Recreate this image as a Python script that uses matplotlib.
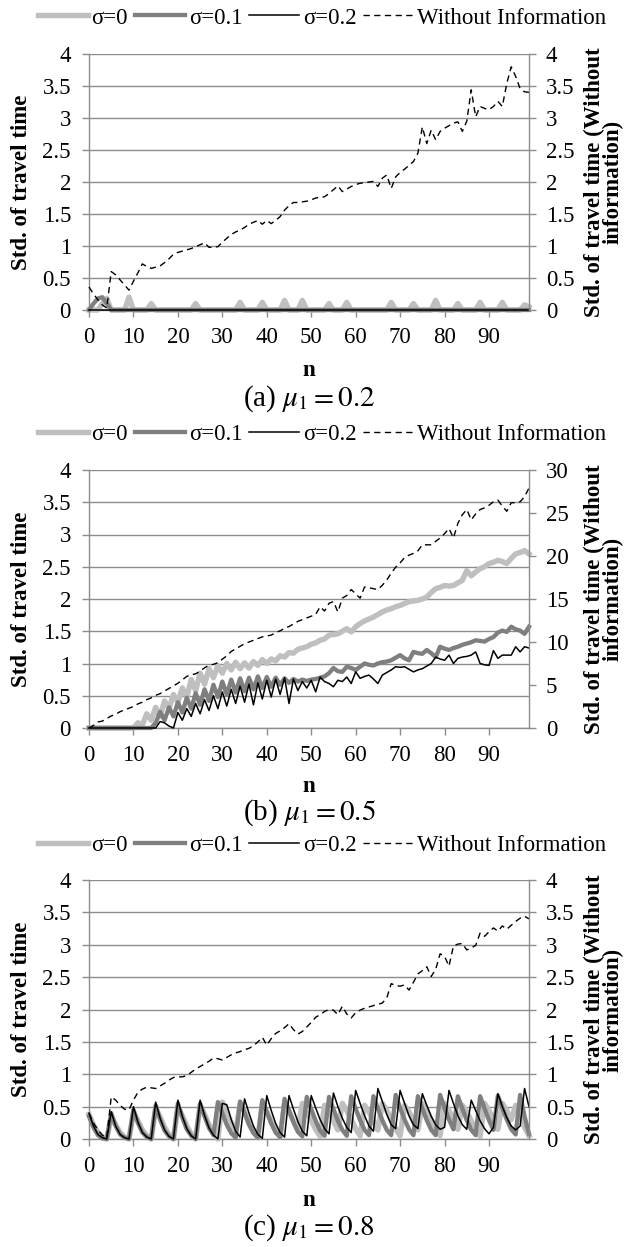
import matplotlib
matplotlib.use("Agg")
import matplotlib.pyplot as plt

plt.rcParams['font.family'] = ['Liberation Serif', 'DejaVu Serif']
plt.rcParams['mathtext.fontset'] = 'stix'

# ---------------- data ----------------
steps = list(range(100))
x_ticks = [0, 10, 20, 30, 40, 50, 60, 70, 80, 90]
x_tick_labels = ['0', '10', '20', '30', '40', '50', '60', '70', '80', '90']
left_ticks = [0, 0.5, 1, 1.5, 2, 2.5, 3, 3.5, 4]
left_tick_labels = ['0', '0.5', '1', '1.5', '2', '2.5', '3', '3.5', '4']
right_ticks_b = [0, 5, 10, 15, 20, 25, 30]
right_tick_labels_b = ['0', '5', '10', '15', '20', '25', '30']
series_labels = ['σ=0', 'σ=0.1', 'σ=0.2', 'Without Information']
captions = ['(a) $\\mu_1 = 0.2$', '(b) $\\mu_1 = 0.5$', '(c) $\\mu_1 = 0.8$']

# (a) mu1 = 0.2
a_sigma0 = [
    0, 0, 0, 0.10, 0.18, 0, 0, 0, 0, 0.20,
    0, 0, 0, 0, 0.10, 0, 0, 0, 0, 0,
    0, 0, 0, 0, 0.10, 0, 0, 0, 0, 0,
    0, 0, 0, 0, 0.12, 0, 0, 0, 0, 0.12,
    0, 0, 0, 0, 0.15, 0, 0, 0, 0.15, 0,
    0, 0, 0, 0, 0.10, 0, 0, 0, 0.12, 0,
    0, 0, 0, 0, 0, 0, 0, 0, 0.12, 0,
    0, 0, 0, 0.10, 0, 0, 0, 0, 0.15, 0,
    0, 0, 0, 0.10, 0, 0, 0, 0, 0.12, 0,
    0, 0, 0, 0.12, 0, 0, 0, 0, 0.08, 0.05,
]
a_sigma01 = [
    0, 0.10, 0.18, 0.20, 0.10, 0, 0, 0, 0, 0,
    0, 0, 0, 0, 0, 0, 0, 0, 0, 0,
    0, 0, 0, 0, 0, 0, 0, 0, 0, 0,
    0, 0, 0, 0, 0, 0, 0, 0, 0, 0,
    0, 0, 0, 0, 0, 0, 0, 0, 0, 0,
    0, 0, 0, 0, 0, 0, 0, 0, 0, 0,
    0, 0, 0, 0, 0, 0, 0, 0, 0, 0,
    0, 0, 0, 0, 0, 0, 0, 0, 0, 0,
    0, 0, 0, 0, 0, 0, 0, 0, 0, 0,
    0, 0, 0, 0, 0, 0, 0, 0, 0, 0,
]
a_sigma02 = [
    0, 0, 0, 0, 0, 0, 0, 0, 0, 0,
    0, 0, 0, 0, 0, 0, 0, 0, 0, 0,
    0, 0, 0, 0, 0, 0, 0, 0, 0, 0,
    0, 0, 0, 0, 0, 0, 0, 0, 0, 0,
    0, 0, 0, 0, 0, 0, 0, 0, 0, 0,
    0, 0, 0, 0, 0, 0, 0, 0, 0, 0,
    0, 0, 0, 0, 0, 0, 0, 0, 0, 0,
    0, 0, 0, 0, 0, 0, 0, 0, 0, 0,
    0, 0, 0, 0, 0, 0, 0, 0, 0, 0,
    0, 0, 0, 0, 0, 0, 0, 0, 0, 0,
]
a_no_info = [
    0.36, 0.25, 0.16, 0.08, 0.03, 0.60, 0.55, 0.47, 0.39, 0.31,
    0.45, 0.58, 0.72, 0.68, 0.65, 0.67, 0.69, 0.74, 0.80, 0.87,
    0.90, 0.92, 0.94, 0.96, 0.99, 1.02, 1.05, 0.98, 0.98, 0.99,
    1.06, 1.12, 1.18, 1.22, 1.25, 1.29, 1.34, 1.37, 1.40, 1.34,
    1.40, 1.35, 1.40, 1.46, 1.56, 1.63, 1.68, 1.68, 1.69, 1.70,
    1.72, 1.75, 1.76, 1.77, 1.82, 1.88, 1.94, 1.85, 1.89, 1.93,
    1.96, 1.98, 1.99, 2.00, 2.01, 1.93, 2.06, 2.11, 1.90, 2.08,
    2.15, 2.20, 2.26, 2.32, 2.45, 2.86, 2.60, 2.81, 2.66, 2.79,
    2.84, 2.88, 2.92, 2.94, 2.79, 2.95, 3.44, 3.02, 3.18, 3.15,
    3.13, 3.18, 3.26, 3.18, 3.54, 3.80, 3.65, 3.46, 3.41, 3.40,
]

# (b) mu1 = 0.5
b_sigma0 = [
    0, 0, 0, 0, 0, 0, 0, 0, 0, 0,
    0, 0.08, 0.05, 0.22, 0.12, 0.32, 0.18, 0.42, 0.30, 0.52,
    0.40, 0.62, 0.48, 0.75, 0.58, 0.85, 0.68, 0.92, 0.78, 0.97,
    0.85, 1.00, 0.90, 1.02, 0.92, 1.01, 0.93, 1.03, 0.97, 1.06,
    1.00, 1.07, 1.04, 1.12, 1.10, 1.17, 1.16, 1.22, 1.24, 1.26,
    1.30, 1.32, 1.36, 1.38, 1.44, 1.45, 1.46, 1.50, 1.54, 1.49,
    1.57, 1.62, 1.66, 1.69, 1.72, 1.76, 1.80, 1.83, 1.85, 1.88,
    1.90, 1.93, 1.96, 1.97, 1.98, 2.00, 2.03, 2.10, 2.16, 2.18,
    2.21, 2.20, 2.21, 2.25, 2.29, 2.44, 2.36, 2.42, 2.47, 2.50,
    2.55, 2.57, 2.60, 2.58, 2.55, 2.63, 2.70, 2.72, 2.75, 2.70,
]
b_sigma01 = [
    0, 0, 0, 0, 0, 0, 0, 0, 0, 0,
    0, 0, 0, 0, 0, 0.08, 0.25, 0.12, 0.32, 0.18,
    0.40, 0.24, 0.47, 0.30, 0.54, 0.36, 0.60, 0.42, 0.67, 0.48,
    0.72, 0.52, 0.75, 0.55, 0.77, 0.57, 0.78, 0.60, 0.80, 0.62,
    0.79, 0.64, 0.78, 0.67, 0.77, 0.70, 0.76, 0.72, 0.75, 0.73,
    0.75, 0.76, 0.78, 0.80, 0.85, 0.93, 0.88, 0.87, 0.95, 0.93,
    0.90, 0.95, 1.00, 0.98, 0.97, 1.00, 1.02, 1.03, 1.05, 1.09,
    1.13, 1.08, 1.05, 1.18, 1.16, 1.15, 1.21, 1.16, 1.10, 1.26,
    1.23, 1.21, 1.24, 1.26, 1.29, 1.31, 1.33, 1.36, 1.35, 1.34,
    1.38, 1.41, 1.48, 1.51, 1.49, 1.57, 1.53, 1.51, 1.46, 1.57,
]
b_sigma02 = [
    0, 0, 0, 0, 0, 0, 0, 0, 0, 0,
    0, 0, 0, 0, 0, 0, 0.10, 0.08, 0.03, 0,
    0.24, 0.12, 0.30, 0.18, 0.38, 0.22, 0.44, 0.27, 0.50, 0.30,
    0.56, 0.34, 0.60, 0.38, 0.65, 0.40, 0.68, 0.36, 0.70, 0.45,
    0.74, 0.48, 0.76, 0.52, 0.78, 0.38, 0.76, 0.58, 0.72, 0.62,
    0.74, 0.56, 0.79, 0.72, 0.69, 0.64, 0.74, 0.72, 0.79, 0.69,
    0.87, 0.77, 0.80, 0.82, 0.76, 0.69, 0.82, 0.86, 0.90, 0.95,
    0.94, 0.95, 0.91, 0.87, 0.90, 0.92, 0.96, 1.00, 1.10, 1.07,
    1.05, 1.13, 1.00, 1.08, 1.10, 1.11, 1.13, 1.18, 1.00, 0.98,
    0.97, 1.20, 1.08, 1.13, 1.13, 1.13, 1.26, 1.18, 1.26, 1.24,
]
b_no_info = [
    0.0, 0.3, 0.7, 0.8, 1.1, 1.4, 1.6, 1.9, 2.1, 2.3,
    2.5, 2.8, 3.0, 3.3, 3.5, 3.8, 4.0, 4.3, 4.6, 4.9,
    5.2, 5.6, 6.0, 6.2, 6.3, 6.6, 7.0, 7.3, 7.4, 7.6,
    8.0, 8.4, 8.9, 9.2, 9.5, 9.8, 10.0, 10.2, 10.4, 10.6,
    10.7, 10.8, 11.1, 11.3, 11.6, 11.8, 12.1, 12.4, 12.6, 12.8,
    13.0, 13.2, 14.1, 13.6, 14.5, 14.7, 13.5, 15.1, 15.4, 16.1,
    15.6, 15.1, 16.4, 16.3, 16.2, 16.1, 16.6, 17.2, 18.0, 18.7,
    19.2, 19.8, 20.1, 20.3, 20.6, 21.3, 21.3, 21.3, 21.7, 22.1,
    22.6, 23.2, 22.1, 23.8, 24.8, 25.4, 24.2, 24.9, 25.4, 25.6,
    25.9, 26.3, 26.5, 25.8, 25.2, 26.2, 26.2, 26.3, 26.9, 27.9,
]

# (c) mu1 = 0.8
c_sigma0 = [
    0.38, 0.22, 0.10, 0.03, 0.00, 0.35, 0.22, 0.10, 0.03, 0.00,
    0.42, 0.28, 0.14, 0.05, 0.00, 0.48, 0.34, 0.18, 0.07, 0.00,
    0.50, 0.36, 0.20, 0.08, 0.00, 0.52, 0.38, 0.22, 0.09, 0.00,
    0.57, 0.42, 0.25, 0.10, 0.55, 0.42, 0.26, 0.12, 0.02, 0.55,
    0.42, 0.27, 0.13, 0.03, 0.55, 0.43, 0.28, 0.14, 0.55, 0.43,
    0.29, 0.15, 0.04, 0.52, 0.42, 0.28, 0.14, 0.55, 0.44, 0.30,
    0.16, 0.05, 0.52, 0.42, 0.28, 0.14, 0.55, 0.44, 0.30, 0.16,
    0.05, 0.52, 0.42, 0.28, 0.14, 0.55, 0.44, 0.30, 0.16, 0.05,
    0.55, 0.44, 0.30, 0.15, 0.52, 0.42, 0.28, 0.14, 0.04, 0.55,
    0.44, 0.30, 0.15, 0.55, 0.44, 0.30, 0.52, 0.36, 0.18, 0.05,
]
c_sigma01 = [
    0.35, 0.18, 0.06, 0.01, 0.00, 0.40, 0.20, 0.07, 0.02, 0.00,
    0.45, 0.25, 0.10, 0.03, 0.00, 0.52, 0.30, 0.13, 0.04, 0.00,
    0.55, 0.33, 0.15, 0.05, 0.00, 0.55, 0.35, 0.17, 0.06, 0.57,
    0.40, 0.22, 0.09, 0.02, 0.58, 0.40, 0.22, 0.09, 0.02, 0.60,
    0.42, 0.24, 0.10, 0.03, 0.62, 0.44, 0.26, 0.11, 0.04, 0.65,
    0.46, 0.28, 0.13, 0.05, 0.65, 0.46, 0.28, 0.14, 0.05, 0.66,
    0.47, 0.29, 0.14, 0.06, 0.66, 0.47, 0.29, 0.14, 0.06, 0.68,
    0.48, 0.30, 0.15, 0.06, 0.66, 0.47, 0.29, 0.14, 0.06, 0.68,
    0.48, 0.30, 0.15, 0.66, 0.47, 0.29, 0.14, 0.06, 0.66, 0.47,
    0.29, 0.14, 0.67, 0.48, 0.30, 0.15, 0.07, 0.68, 0.35, 0.08,
]
c_sigma02 = [
    0.40, 0.20, 0.07, 0.02, 0.00, 0.42, 0.20, 0.07, 0.02, 0.00,
    0.50, 0.26, 0.10, 0.03, 0.00, 0.57, 0.32, 0.14, 0.04, 0.00,
    0.60, 0.35, 0.16, 0.05, 0.00, 0.60, 0.36, 0.17, 0.06, 0.00,
    0.55, 0.53, 0.30, 0.12, 0.03, 0.62, 0.40, 0.20, 0.07, 0.01,
    0.67, 0.44, 0.24, 0.10, 0.03, 0.67, 0.46, 0.27, 0.12, 0.05,
    0.67, 0.48, 0.30, 0.16, 0.08, 0.71, 0.50, 0.32, 0.18, 0.10,
    0.75, 0.55, 0.36, 0.20, 0.12, 0.78, 0.58, 0.38, 0.22, 0.16,
    0.75, 0.55, 0.36, 0.22, 0.16, 0.70, 0.52, 0.35, 0.22, 0.15,
    0.18, 0.75, 0.55, 0.36, 0.22, 0.15, 0.60, 0.44, 0.28, 0.16,
    0.08, 0.18, 0.70, 0.50, 0.33, 0.20, 0.14, 0.20, 0.78, 0.50,
]
c_no_info = [
    0.40, 0.25, 0.14, 0.06, 0.02, 0.65, 0.60, 0.52, 0.46, 0.45,
    0.60, 0.72, 0.77, 0.80, 0.79, 0.78, 0.82, 0.86, 0.91, 0.95,
    0.96, 0.96, 0.98, 1.03, 1.08, 1.12, 1.16, 1.20, 1.25, 1.24,
    1.22, 1.26, 1.30, 1.33, 1.35, 1.38, 1.40, 1.44, 1.50, 1.57,
    1.45, 1.55, 1.63, 1.67, 1.72, 1.78, 1.69, 1.62, 1.66, 1.73,
    1.80, 1.88, 1.92, 1.97, 2.00, 1.99, 1.92, 2.05, 1.93, 1.87,
    1.95, 1.99, 2.02, 2.04, 2.06, 2.08, 2.10, 2.18, 2.40, 2.37,
    2.36, 2.38, 2.30, 2.42, 2.55, 2.60, 2.66, 2.51, 2.62, 2.86,
    2.82, 2.67, 2.98, 3.01, 3.02, 2.92, 2.95, 2.99, 3.18, 3.13,
    3.20, 3.26, 3.21, 3.29, 3.24, 3.30, 3.36, 3.41, 3.44, 3.40,
]

# ---------------- styling ----------------
FIG_W, FIG_H = 624, 1247
LIGHT = '#bfbfbf'
DARK = '#7f7f7f'
AXIS_GRAY = '#8c8c8c'
TICK_FS = 16.5
LABEL_FS = 16.5

fig = plt.figure(figsize=(FIG_W / 100, FIG_H / 100), dpi=100)


def fy(py):
    return 1 - py / FIG_H


AX_LEFT_PX, AX_RIGHT_PX = 89, 529

panels = [
    dict(top=54, bottom=310, s=(a_sigma0, a_sigma01, a_sigma02, a_no_info),
         rlim=4, rticks=left_ticks, rlabels=left_tick_labels,
         legend=18, nlab=371, cap=399),
    dict(top=470, bottom=728, s=(b_sigma0, b_sigma01, b_sigma02, b_no_info),
         rlim=30, rticks=right_ticks_b, rlabels=right_tick_labels_b,
         legend=434, nlab=786, cap=813),
    dict(top=880, bottom=1139, s=(c_sigma0, c_sigma01, c_sigma02, c_no_info),
         rlim=4, rticks=left_ticks, rlabels=left_tick_labels,
         legend=845, nlab=1200, cap=1228),
]

for p, cap in zip(panels, captions):
    left = AX_LEFT_PX / FIG_W
    width = (AX_RIGHT_PX - AX_LEFT_PX) / FIG_W
    bottom = fy(p['bottom'])
    height = (p['bottom'] - p['top']) / FIG_H
    ax = fig.add_axes([left, bottom, width, height])
    ax2 = ax.twinx()

    s0, s01, s02, noinfo = p['s']
    l0, = ax.plot(steps, s0, color=LIGHT, lw=3.9, solid_joinstyle='round',
                  clip_on=False, zorder=3)
    l1, = ax.plot(steps, s01, color=DARK, lw=3.1, solid_joinstyle='round',
                  clip_on=False, zorder=4)
    l2, = ax.plot(steps, s02, color='black', lw=1.1, clip_on=False, zorder=5)
    l3, = ax2.plot(steps, noinfo, color='black', lw=1.0, dashes=(4.5, 3.2),
                   clip_on=False)

    ax.set_xlim(0, 99)
    ax.set_ylim(0, 4)
    ax2.set_ylim(0, p['rlim'])
    ax.set_xticks(x_ticks)
    ax.set_xticklabels(x_tick_labels)
    ax.set_yticks(left_ticks)
    ax.set_yticklabels(left_tick_labels)
    ax2.set_yticks(p['rticks'])
    ax2.set_yticklabels(p['rlabels'])

    ax.yaxis.grid(True, color=AXIS_GRAY, lw=1.0)
    ax.set_axisbelow(True)
    for a in (ax, ax2):
        a.spines['top'].set_visible(False)
        for side in ('left', 'right', 'bottom'):
            a.spines[side].set_color(AXIS_GRAY)
            a.spines[side].set_linewidth(1.0)
    ax.spines['right'].set_visible(False)
    ax2.spines['left'].set_visible(False)
    ax2.spines['bottom'].set_visible(False)

    ax.tick_params(axis='y', direction='out', length=5, width=1.0,
                   color=AXIS_GRAY, labelsize=TICK_FS, pad=8)
    ax.tick_params(axis='x', direction='out', length=5, width=1.0,
                   color=AXIS_GRAY, labelsize=TICK_FS, pad=7)
    ax2.tick_params(axis='y', direction='out', length=5, width=1.0,
                    color=AXIS_GRAY, labelsize=TICK_FS, pad=7)

    yc = bottom + height / 2
    fig.text(22 / FIG_W, yc, 'Std. of travel time', rotation=90,
             ha='center', va='center', fontsize=LABEL_FS, fontweight='bold')
    fig.text(604 / FIG_W, yc, 'Std. of travel time (Without\ninformation)',
             rotation=90, ha='center', va='center', fontsize=LABEL_FS,
             fontweight='bold', multialignment='center', linespacing=0.85)

    xc = left + width / 2
    fig.text(xc, fy(p['nlab']), 'n', ha='center', va='center',
             fontsize=LABEL_FS, fontweight='bold')
    fig.text(xc, fy(p['cap']), cap, ha='center', va='center', fontsize=21)

    fig.legend([l0, l1, l2, l3], series_labels, loc='center',
               bbox_to_anchor=(322 / FIG_W, fy(p['legend'])), ncol=4,
               frameon=False, fontsize=TICK_FS, handlelength=2.2,
               handletextpad=0.15, columnspacing=0.3, borderaxespad=0,
               borderpad=0)

fig.savefig('out.png', dpi=100)
